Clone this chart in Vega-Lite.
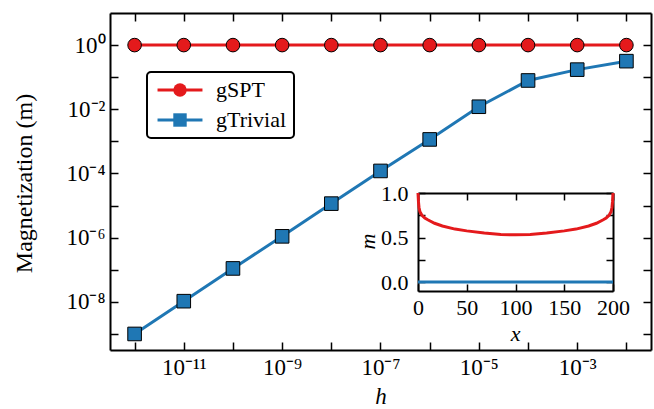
{
  "$schema": "https://vega.github.io/schema/vega-lite/v6.json",
  "width": 541,
  "height": 337,
  "autosize": "none",
  "padding": {"left": 110, "top": 13, "right": 3, "bottom": 59},
  "background": "white",
  "config": {
    "font": "Liberation Serif",
    "view": {"stroke": null},
    "axis": {
      "grid": false,
      "domainColor": "black",
      "domainWidth": 2,
      "tickColor": "black",
      "tickWidth": 1.5,
      "tickSize": -8,
      "labelFont": "Liberation Serif",
      "labelFontSize": 22,
      "labelColor": "black",
      "labelFlush": false,
      "labelOverlap": false,
      "titleFont": "Liberation Serif",
      "titleFontSize": 22,
      "titleFontWeight": "normal",
      "titleColor": "black"
    },
    "legend": {"labelColor": "black", "labelFont": "Liberation Serif", "labelFontSize": 22}
  },
  "datasets": {
    "main": [
      {"h": 1e-12, "m": 1.0, "series": "gSPT"},
      {"h": 1e-11, "m": 1.0, "series": "gSPT"},
      {"h": 1e-10, "m": 1.0, "series": "gSPT"},
      {"h": 1e-9, "m": 1.0, "series": "gSPT"},
      {"h": 1e-8, "m": 1.0, "series": "gSPT"},
      {"h": 1e-7, "m": 1.0, "series": "gSPT"},
      {"h": 1e-6, "m": 1.0, "series": "gSPT"},
      {"h": 1e-5, "m": 1.0, "series": "gSPT"},
      {"h": 1e-4, "m": 1.0, "series": "gSPT"},
      {"h": 1e-3, "m": 1.0, "series": "gSPT"},
      {"h": 1e-2, "m": 1.0, "series": "gSPT"},
      {"h": 1e-12, "m": 1.0e-9, "series": "gTrivial"},
      {"h": 1e-11, "m": 1.05e-8, "series": "gTrivial"},
      {"h": 1e-10, "m": 1.1e-7, "series": "gTrivial"},
      {"h": 1e-9, "m": 1.1e-6, "series": "gTrivial"},
      {"h": 1e-8, "m": 1.15e-5, "series": "gTrivial"},
      {"h": 1e-7, "m": 1.2e-4, "series": "gTrivial"},
      {"h": 1e-6, "m": 1.15e-3, "series": "gTrivial"},
      {"h": 1e-5, "m": 1.2e-2, "series": "gTrivial"},
      {"h": 1e-4, "m": 0.079, "series": "gTrivial"},
      {"h": 1e-3, "m": 0.172, "series": "gTrivial"},
      {"h": 1e-2, "m": 0.316, "series": "gTrivial"}
    ],
    "inset": [
      {"x": 0, "m": 1.0, "series": "gSPT"},
      {"x": 0.5, "m": 0.9, "series": "gSPT"},
      {"x": 1, "m": 0.84, "series": "gSPT"},
      {"x": 2, "m": 0.79, "series": "gSPT"},
      {"x": 4, "m": 0.75, "series": "gSPT"},
      {"x": 7, "m": 0.72, "series": "gSPT"},
      {"x": 10, "m": 0.7, "series": "gSPT"},
      {"x": 17, "m": 0.66, "series": "gSPT"},
      {"x": 25, "m": 0.63, "series": "gSPT"},
      {"x": 38, "m": 0.595, "series": "gSPT"},
      {"x": 50, "m": 0.575, "series": "gSPT"},
      {"x": 68, "m": 0.55, "series": "gSPT"},
      {"x": 85, "m": 0.535, "series": "gSPT"},
      {"x": 100, "m": 0.53, "series": "gSPT"},
      {"x": 115, "m": 0.535, "series": "gSPT"},
      {"x": 132, "m": 0.55, "series": "gSPT"},
      {"x": 150, "m": 0.575, "series": "gSPT"},
      {"x": 162, "m": 0.595, "series": "gSPT"},
      {"x": 175, "m": 0.63, "series": "gSPT"},
      {"x": 183, "m": 0.66, "series": "gSPT"},
      {"x": 190, "m": 0.7, "series": "gSPT"},
      {"x": 193, "m": 0.72, "series": "gSPT"},
      {"x": 196, "m": 0.75, "series": "gSPT"},
      {"x": 198, "m": 0.79, "series": "gSPT"},
      {"x": 199, "m": 0.84, "series": "gSPT"},
      {"x": 199.5, "m": 0.9, "series": "gSPT"},
      {"x": 200, "m": 1.0, "series": "gSPT"},
      {"x": 0, "m": 0.0, "series": "gTrivial"},
      {"x": 50, "m": 0.0, "series": "gTrivial"},
      {"x": 100, "m": 0.0, "series": "gTrivial"},
      {"x": 150, "m": 0.0, "series": "gTrivial"},
      {"x": 200, "m": 0.0, "series": "gTrivial"}
    ]
  },
  "layer": [
    {
      "data": {"name": "main"},
      "layer": [
        {
          "mark": {"type": "line", "strokeWidth": 3},
          "encoding": {
            "x": {
              "field": "h", "type": "quantitative",
              "scale": {"type": "log", "domain": [3.1623e-13, 0.031623], "nice": false},
              "axis": {
                "orient": "bottom",
                "values": [1e-12, 1e-11, 1e-10, 1e-9, 1e-8, 1e-7, 1e-6, 1e-5, 1e-4, 1e-3, 1e-2],
                "labelExpr": "round(log(datum.value)/LN10) == -11 ? '10⁻¹¹' : round(log(datum.value)/LN10) == -9 ? '10⁻⁹' : round(log(datum.value)/LN10) == -7 ? '10⁻⁷' : round(log(datum.value)/LN10) == -5 ? '10⁻⁵' : round(log(datum.value)/LN10) == -3 ? '10⁻³' : ''",
                "labelFontSize": 23,
                "labelPadding": 14,
                "title": "h",
                "titleFontSize": 23,
                "titleFontStyle": "italic",
                "titleBaseline": "alphabetic",
                "titleX": 270.5,
                "titleY": 53
              }
            },
            "y": {
              "field": "m", "type": "quantitative",
              "scale": {"type": "log", "domain": [3.1623e-10, 10], "nice": false},
              "axis": {
                "orient": "left",
                "values": [1e-9, 1e-8, 1e-7, 1e-6, 1e-5, 1e-4, 1e-3, 1e-2, 1e-1, 1],
                "labelExpr": "round(log(datum.value)/LN10) == 0 ? '10⁰' : round(log(datum.value)/LN10) == -2 ? '10⁻²' : round(log(datum.value)/LN10) == -4 ? '10⁻⁴' : round(log(datum.value)/LN10) == -6 ? '10⁻⁶' : round(log(datum.value)/LN10) == -8 ? '10⁻⁸' : ''",
                "labelFontSize": 23,
                "labelPadding": 13,
                "title": "Magnetization (m)",
                "titleFontSize": 24,
                "titleAngle": -90,
                "titleBaseline": "alphabetic",
                "titleAlign": "center",
                "titleX": -79,
                "titleY": 170
              }
            },
            "color": {
              "field": "series", "type": "nominal",
              "scale": {"domain": ["gSPT", "gTrivial"], "range": ["#e41a1c", "#1f77b4"]},
              "legend": {
                "orient": "none", "legendX": 37, "legendY": 59, "title": null,
                "symbolType": "M-3.35,0H3.35", "symbolSize": 180, "symbolStrokeWidth": 3,
                "symbolFillColor": "transparent",
                "symbolOffset": 15, "labelOffset": 25, "labelOpacity": 0,
                "strokeColor": "black", "cornerRadius": 4,
                "padding": 7, "rowPadding": 8,
                "encode": {"legend": {"update": {"strokeWidth": {"value": 2}}}}
              }
            }
          }
        },
        {
          "mark": {"type": "point", "filled": true, "size": 185, "stroke": "black", "strokeWidth": 1, "opacity": 1},
          "encoding": {
            "x": {"field": "h", "type": "quantitative"},
            "y": {"field": "m", "type": "quantitative"},
            "fill": {
              "field": "series", "type": "nominal",
              "scale": {"range": ["#e41a1c", "#1f77b4"]},
              "legend": {
                "orient": "none", "legendX": 37, "legendY": 59, "title": null,
                "symbolSize": 180, "symbolStrokeWidth": 1, "symbolStrokeColor": "black",
                "symbolOffset": 15, "labelOffset": 25,
                "padding": 7, "rowPadding": 8
              }
            },
            "shape": {
              "field": "series", "type": "nominal",
              "scale": {"range": ["circle", "square"]},
              "legend": {
                "orient": "none", "legendX": 37, "legendY": 59, "title": null,
                "symbolSize": 180, "symbolStrokeWidth": 1, "symbolStrokeColor": "black",
                "symbolOffset": 15, "labelOffset": 25,
                "padding": 7, "rowPadding": 8
              }
            }
          }
        }
      ]
    },
    {
      "data": {"name": "main"},
      "mark": {"type": "point", "opacity": 0},
      "encoding": {
        "x": {
          "field": "h", "type": "quantitative",
          "scale": {"type": "log", "domain": [3.1623e-13, 0.031623], "nice": false},
          "axis": {"orient": "top", "values": [1e-12, 1e-11, 1e-10, 1e-9, 1e-8, 1e-7, 1e-6, 1e-5, 1e-4, 1e-3, 1e-2], "labels": false, "title": null}
        },
        "y": {
          "field": "m", "type": "quantitative",
          "scale": {"type": "log", "domain": [3.1623e-10, 10], "nice": false},
          "axis": {"orient": "right", "values": [1e-9, 1e-8, 1e-7, 1e-6, 1e-5, 1e-4, 1e-3, 1e-2, 1e-1, 1], "labels": false, "title": null}
        }
      }
    },
    {
      "data": {"name": "inset"},
      "mark": {"type": "line", "strokeWidth": 3},
      "encoding": {
        "x": {
          "field": "x", "type": "quantitative",
          "scale": {"domain": [0, 200], "range": [308, 503], "nice": false, "zero": false},
          "axis": {
            "orient": "bottom", "offset": -59, "tickSize": -7,
            "values": [0, 50, 100, 150, 200],
            "labelPadding": 13,
            "title": "x", "titleFontStyle": "italic", "titleBaseline": "alphabetic",
            "titleX": 405, "titleY": 49
          }
        },
        "y": {
          "field": "m", "type": "quantitative",
          "scale": {"domain": [-0.1, 1.0], "range": [278, 180], "nice": false, "zero": false},
          "axis": {
            "orient": "left", "offset": -308, "tickSize": -7,
            "values": [0, 0.25, 0.5, 0.75, 1.0],
            "labelExpr": "datum.value == 0 ? '0.0' : datum.value == 0.5 ? '0.5' : datum.value == 1 ? '1.0' : ''",
            "labelPadding": 17,
            "title": "m", "titleFontStyle": "italic", "titleAngle": -90,
            "titleBaseline": "alphabetic", "titleAlign": "center",
            "titleX": -44, "titleY": 228
          }
        },
        "color": {"field": "series", "type": "nominal"}
      }
    },
    {
      "data": {"name": "inset"},
      "mark": {"type": "point", "opacity": 0},
      "encoding": {
        "x": {
          "field": "x", "type": "quantitative",
          "scale": {"domain": [0, 200], "range": [308, 503], "nice": false, "zero": false},
          "axis": {"orient": "top", "offset": -180, "tickSize": -7, "values": [0, 50, 100, 150, 200], "labels": false, "title": null}
        },
        "y": {
          "field": "m", "type": "quantitative",
          "scale": {"domain": [-0.1, 1.0], "range": [278, 180], "nice": false, "zero": false},
          "axis": {"orient": "right", "offset": -38, "tickSize": -7, "values": [0, 0.25, 0.5, 0.75, 1.0], "labels": false, "title": null}
        }
      }
    }
  ],
  "resolve": {"scale": {"x": "independent", "y": "independent"}}
}
